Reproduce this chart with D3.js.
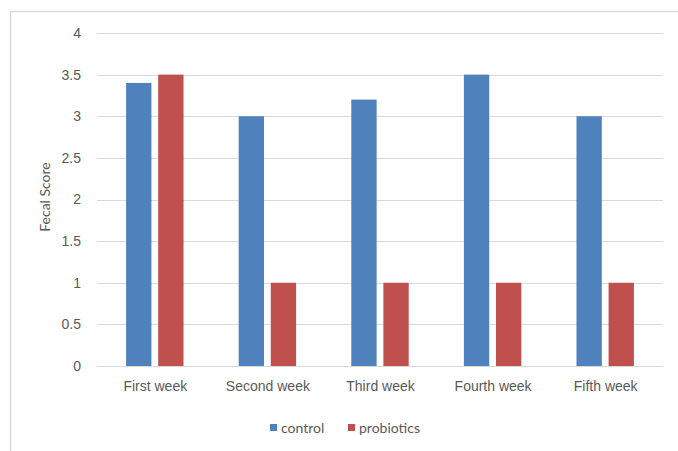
<!DOCTYPE html>
<html>
<head>
<meta charset="utf-8">
<script src="https://cdn.jsdelivr.net/npm/d3@7"></script>
<style>
  html, body { margin: 0; padding: 0; background: #fff; }
  svg { display: block; font-family: Lato, "Open Sans", sans-serif; }
</style>
</head>
<body>
<svg id="chart" width="678" height="451"></svg>
<script>
// Weekly fecal scores for the two groups
const categories = ["First week", "Second week", "Third week", "Fourth week", "Fifth week"];
const seriesNames = ["control", "probiotics"];
const controlValues = [3.4, 3, 3.2, 3.5, 3];
const probioticsValues = [3.5, 1, 1, 1, 1];
const yTicks = [0, 0.5, 1, 1.5, 2, 2.5, 3, 3.5, 4];
const colors = ["#4F81BD", "#C0504D"];

const svg = d3.select("#chart");
const W = 678, H = 451;
const plot = { left: 97, right: 660, top: 33, bottom: 366 };
const fontSize = 14;

// Outer chart frame (top and left edges visible)
svg.append("line").attr("x1", 10).attr("x2", W).attr("y1", 11.5).attr("y2", 11.5)
  .attr("stroke", "#d9d9d9").attr("stroke-width", 1.5);
svg.append("line").attr("x1", 10.5).attr("x2", 10.5).attr("y1", 11).attr("y2", H)
  .attr("stroke", "#d9d9d9").attr("stroke-width", 1.5);

const x = d3.scaleBand().domain(categories).range([plot.left, plot.right]).padding(0);
const y = d3.scaleLinear().domain([0, 4]).range([plot.bottom, plot.top]);

// Gridlines and y tick labels
const yAxis = d3.axisLeft(y).tickValues(yTicks).tickFormat(d3.format("")).tickSize(0).tickPadding(16);
const gy = svg.append("g").attr("transform", `translate(${plot.left},0)`).call(yAxis);
gy.select(".domain").remove();
gy.selectAll("text").attr("fill", "#595959").attr("font-size", fontSize);
svg.append("g").selectAll("line").data(yTicks).join("line")
  .attr("x1", plot.left).attr("x2", 663)
  .attr("y1", d => Math.round(y(d)) + 0.5).attr("y2", d => Math.round(y(d)) + 0.5)
  .attr("stroke", "#d9d9d9").attr("stroke-width", 1);

// Grouped bars
const step = x.bandwidth();
const barW = step * 0.225;
const gap = step * 0.06;
const groupW = 2 * barW + gap;
const series = [controlValues, probioticsValues];
series.forEach((vals, si) => {
  svg.append("g").selectAll("rect").data(categories).join("rect")
    .attr("x", (c) => x(c) + (step - groupW) / 2 + si * (barW + gap) + 1.5)
    .attr("y", (c, i) => y(vals[i]))
    .attr("width", barW)
    .attr("height", (c, i) => y(0) - y(vals[i]))
    .attr("fill", colors[si]);
});

// X category labels
const xAxis = d3.axisBottom(x).tickSize(0).tickPadding(15);
const gx = svg.append("g").attr("transform", `translate(0,${plot.bottom})`).call(xAxis);
gx.select(".domain").remove();
gx.selectAll("text").attr("fill", "#595959").attr("font-size", fontSize).attr("dx", 2);

// Y axis title
svg.append("text")
  .attr("transform", `translate(50,197) rotate(-90)`)
  .attr("text-anchor", "middle")
  .attr("fill", "#595959").attr("font-size", fontSize)
  .text("Fecal Score");

// Legend
const legend = svg.append("g").attr("transform", "translate(270,428)");
const legendX = [0, 78];
seriesNames.forEach((name, i) => {
  const g = legend.append("g").attr("transform", `translate(${legendX[i]},0)`);
  g.append("rect").attr("x", 0).attr("y", -4).attr("width", 7).attr("height", 7).attr("fill", colors[i]);
  g.append("text").attr("x", 11).attr("y", 0).attr("dy", "0.35em")
    .attr("fill", "#595959").attr("font-size", fontSize).text(name);
});
</script>
</body>
</html>
